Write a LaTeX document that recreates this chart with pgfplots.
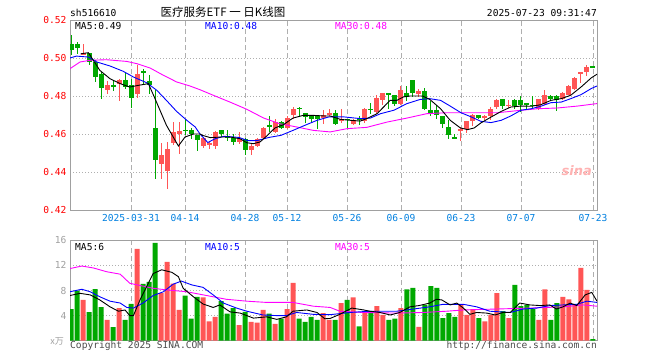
\documentclass[border=0pt]{standalone}
\usepackage{fontspec}
\setmainfont{DejaVu Sans Mono}
\setsansfont{DejaVu Sans}
\newfontfamily\cjk{Noto Sans CJK SC}
\usepackage{pgfplots}
\usepackage{pgfplotstable}
\pgfplotsset{compat=1.18}
\definecolor{cred}{RGB}{255,85,85}
\definecolor{cgreen}{RGB}{0,168,0}
\definecolor{cmag}{RGB}{255,0,255}
\definecolor{cblue}{RGB}{0,0,255}
\definecolor{cdate}{RGB}{0,128,224}
\definecolor{cframe}{RGB}{160,160,160}
\definecolor{cgrid}{RGB}{175,175,175}
\newcommand\mono{\fontsize{9.6}{11}\selectfont}

\pgfplotstableread{
i o h l c
2 0.5019 0.5075 0.5014 0.5028
6 0.4830 0.4877 0.4812 0.4856
8 0.4865 0.4891 0.4772 0.4886
11 0.4809 0.4961 0.4791 0.4918
15 0.4444 0.4553 0.4365 0.4491
16 0.4404 0.4558 0.4309 0.4523
17 0.4553 0.4663 0.4540 0.4611
18 0.4602 0.4663 0.4496 0.4614
22 0.4537 0.4584 0.4526 0.4579
23 0.4544 0.4563 0.4519 0.4554
24 0.4537 0.4614 0.4519 0.4611
28 0.4558 0.4610 0.4549 0.4575
30 0.4514 0.4549 0.4491 0.4537
31 0.4537 0.4581 0.4530 0.4575
32 0.4579 0.4635 0.4575 0.4633
34 0.4611 0.4677 0.4607 0.4663
36 0.4633 0.4695 0.4628 0.4684
37 0.4702 0.4742 0.4681 0.4733
42 0.4684 0.4725 0.4654 0.4702
43 0.4702 0.4733 0.4695 0.4712
45 0.4667 0.4733 0.4660 0.4677
47 0.4654 0.4681 0.4649 0.4672
49 0.4667 0.4737 0.4660 0.4733
51 0.4716 0.4804 0.4707 0.4790
52 0.4777 0.4818 0.4751 0.4818
55 0.4760 0.4853 0.4751 0.4830
58 0.4812 0.4835 0.4795 0.4828
65 0.4614 0.4635 0.4561 0.4628
66 0.4628 0.4667 0.4607 0.4667
67 0.4667 0.4707 0.4642 0.4702
69 0.4684 0.4702 0.4672 0.4695
70 0.4695 0.4742 0.4672 0.4733
71 0.4742 0.4786 0.4733 0.4777
73 0.4747 0.4777 0.4737 0.4754
78 0.4733 0.4786 0.4725 0.4786
79 0.4760 0.4830 0.4754 0.4807
82 0.4786 0.4821 0.4777 0.4818
83 0.4807 0.4856 0.4804 0.4853
84 0.4839 0.4900 0.4830 0.4895
85 0.4915 0.4928 0.4870 0.4925
86 0.4925 0.4962 0.4905 0.4955
}\upc

\pgfplotstableread{
i o h l c
0 0.5072 0.5120 0.5014 0.5040
1 0.5072 0.5084 0.5023 0.5054
3 0.5028 0.5028 0.4961 0.4979
4 0.4979 0.4988 0.4874 0.4900
5 0.4918 0.4926 0.4782 0.4844
7 0.4856 0.4882 0.4826 0.4851
9 0.4886 0.4926 0.4839 0.4847
10 0.4860 0.4891 0.4739 0.4790
12 0.4930 0.4940 0.4865 0.4921
13 0.4877 0.4909 0.4812 0.4860
14 0.4633 0.4833 0.4365 0.4461
19 0.4623 0.4677 0.4593 0.4619
20 0.4623 0.4632 0.4575 0.4602
21 0.4593 0.4596 0.4509 0.4567
25 0.4621 0.4621 0.4584 0.4600
26 0.4589 0.4619 0.4561 0.4584
27 0.4579 0.4602 0.4540 0.4558
29 0.4575 0.4579 0.4488 0.4514
33 0.4646 0.4695 0.4611 0.4635
35 0.4663 0.4667 0.4628 0.4633
38 0.4737 0.4742 0.4690 0.4733
39 0.4711 0.4711 0.4660 0.4690
40 0.4698 0.4702 0.4660 0.4677
41 0.4695 0.4695 0.4628 0.4677
44 0.4712 0.4725 0.4646 0.4654
46 0.4681 0.4681 0.4628 0.4672
48 0.4684 0.4695 0.4649 0.4672
50 0.4733 0.4765 0.4707 0.4725
53 0.4818 0.4818 0.4733 0.4807
54 0.4807 0.4807 0.4747 0.4760
56 0.4818 0.4853 0.4772 0.4795
57 0.4886 0.4886 0.4795 0.4818
59 0.4828 0.4842 0.4725 0.4733
60 0.4725 0.4772 0.4695 0.4707
61 0.4725 0.4751 0.4681 0.4702
62 0.4695 0.4695 0.4632 0.4654
63 0.4635 0.4672 0.4572 0.4593
64 0.4581 0.4602 0.4572 0.4579
68 0.4702 0.4702 0.4677 0.4684
72 0.4786 0.4786 0.4730 0.4747
74 0.4777 0.4782 0.4733 0.4747
75 0.4777 0.4798 0.4716 0.4751
76 0.4765 0.4765 0.4725 0.4754
77 0.4752 0.4798 0.4737 0.4751
80 0.4798 0.4807 0.4777 0.4786
81 0.4798 0.4807 0.4719 0.4777
87 0.4955 0.4955 0.4955 0.4955
}\downc

\pgfplotstableread{
i v
2 6.49
6 3.3
8 5.21
11 14.63
15 7.6
16 12.55
17 9.1
18 4.9
22 6.9
23 3.1
24 3.8
28 2.5
30 3.0
31 2.9
32 4.9
34 2.7
36 5.05
37 9.2
42 4.4
43 3.3
45 6.0
47 6.9
49 4.7
51 5.5
52 4.1
55 5.2
58 2.2
65 5.7
66 4.1
67 5.05
69 3.1
70 4.1
71 7.6
73 3.6
78 3.3
79 8.2
82 7.0
83 6.6
84 5.7
85 11.6
86 8.1
}\upv

\pgfplotstableread{
i v
0 5.05
1 7.98
3 4.57
4 8.24
5 5.37
7 2.18
9 3.3
10 5.85
12 9.04
13 9.36
14 15.59
19 7.2
20 3.5
21 7.0
25 6.3
26 4.3
27 5.2
29 4.6
33 4.3
35 3.5
38 3.5
39 3.0
40 3.8
41 3.3
44 3.3
46 6.5
48 2.3
50 4.7
53 3.3
54 3.5
56 8.2
57 8.4
59 5.7
60 8.7
61 8.4
62 3.6
63 4.4
64 3.8
68 3.6
72 4.7
74 8.9
75 5.5
76 5.7
77 5.05
80 3.3
81 6.0
87 0.27
}\downv

\pgfplotsset{
  sinaaxis/.style={
    scale only axis, anchor=south west,
    width=527pt,
    xmin=-0.17, xmax=87.67,
    axis line style={cframe, line width=1pt},
    xtick={10,19,29,36,46,55,65,75,87},
    major tick length=0pt,
    xmajorgrids, ymajorgrids,
    x grid style={cgrid, dash pattern=on 5pt off 3pt, line width=0.9pt},
    y grid style={cgrid, dash pattern=on 1pt off 2pt, line width=0.9pt},
    tick label style={font=\mono},
  },
  wick/.style={draw=none, mark=none, forget plot,
    error bars/.cd, y dir=both, y explicit, error mark=none,
    error bar style={draw=#1, line width=1pt}},
  body/.style={draw=none, mark=none, forget plot,
    error bars/.cd, y dir=both, y explicit, error mark=none,
    error bar style={draw=#1, line width=5pt}},
}

\begin{document}
\begin{tikzpicture}
\fill[white] (0pt,0pt) rectangle (660pt,360pt);
\path[use as bounding box] (0pt,0pt) rectangle (660pt,360pt);

% ---------- price panel ----------
\begin{axis}[sinaaxis,
  at={(70pt,150pt)}, height=190pt,
  ymin=0.42, ymax=0.52,
  xticklabels={2025-03-31,04-14,04-28,05-12,05-26,06-09,06-23,07-07,07-23},
  xticklabel style={text=cdate, yshift=-1pt},
  ytick={0.42,0.44,0.46,0.48,0.50,0.52},
  yticklabels={0.42,0.44,0.46,0.48,0.50,0.52},
  yticklabel style={text=red},
]
\addplot[wick=cred] table[x=i, y expr=(\thisrow{h}+\thisrow{l})/2, y error expr=(\thisrow{h}-\thisrow{l})/2] {\upc};
\addplot[body=cred] table[x=i, y expr=(\thisrow{o}+\thisrow{c})/2, y error expr={max(abs(\thisrow{c}-\thisrow{o})/2,0.00027)}] {\upc};
\addplot[wick=cgreen] table[x=i, y expr=(\thisrow{h}+\thisrow{l})/2, y error expr=(\thisrow{h}-\thisrow{l})/2] {\downc};
\addplot[body=cgreen] table[x=i, y expr=(\thisrow{o}+\thisrow{c})/2, y error expr={max(abs(\thisrow{c}-\thisrow{o})/2,0.00027)}] {\downc};

% MA30
\addplot[cmag, line width=0.9pt] coordinates {(-0.17,0.4944) (1.5,0.4979) (3.2,0.4988) (5.9,0.4991) (9.3,0.4982) (11,0.4970) (13.2,0.4947) (15.4,0.4909) (17.6,0.4874) (19.8,0.4853) (21.5,0.4833) (23.7,0.4804) (26.5,0.4768) (29.3,0.4730) (32.1,0.4684) (34.8,0.4654) (37.6,0.4637) (40.4,0.4619) (43.2,0.4611) (46,0.4628) (49.3,0.4635) (52.7,0.4663) (56,0.4684) (59.3,0.4707) (62.7,0.4712) (67.8,0.4712) (71.1,0.4712) (74.4,0.4723) (77.8,0.4733) (81.1,0.4737) (84.4,0.4747) (87.67,0.4760)};
% MA10
\addplot[cblue, line width=0.9pt] coordinates {(-0.17,0.5000) (0.9,0.5010) (2.9,0.5005) (4.3,0.4979) (6.5,0.4958) (8.7,0.4930) (10.4,0.4900) (12.6,0.4870) (14.3,0.4830) (15.9,0.4777) (17.6,0.4719) (19.3,0.4672) (20.7,0.4637) (21.5,0.4600) (22.8,0.4555) (24,0.4575) (25.5,0.4588) (28,0.4582) (29.5,0.4565) (31,0.4565) (33,0.4582) (35,0.4593) (37,0.4619) (39,0.4646) (41,0.4672) (43,0.4690) (45.5,0.4690) (48.2,0.4681) (49.9,0.4684) (51.6,0.4707) (53.8,0.4725) (56,0.4760) (58.2,0.4782) (59.8,0.4786) (61.6,0.4777) (63.2,0.4747) (65,0.4712) (66.7,0.4690) (68.3,0.4667) (70,0.4660) (71.7,0.4672) (73.3,0.4695) (75,0.4725) (76.7,0.4733) (78.3,0.4746) (80,0.4765) (81.7,0.4768) (83.3,0.4786) (85,0.4807) (86.7,0.4839) (87.67,0.4853)};
% MA5
\addplot[black, line width=0.9pt] coordinates {(1.6,0.5022) (2.9,0.5028) (4.8,0.4935) (6.5,0.4891) (8.2,0.4865) (9.8,0.4847) (11.2,0.4856) (12.9,0.4865) (14,0.4786) (15.9,0.4646) (17.9,0.4537) (19,0.4584) (20.4,0.4600) (21.5,0.4600) (21.9,0.4593) (23.2,0.4581) (25,0.4584) (26.5,0.4584) (28.2,0.4575) (29.3,0.4554) (30.4,0.4549) (31.5,0.4558) (32.6,0.4589) (34,0.4632) (35.4,0.4649) (37,0.4684) (38.7,0.4698) (40.4,0.4698) (42.2,0.4695) (43.2,0.4695) (44.9,0.4677) (46.6,0.4672) (48.2,0.4668) (49.3,0.4681) (51,0.4707) (52.1,0.4742) (53.2,0.4777) (54.3,0.4777) (55.4,0.4795) (56.4,0.4800) (58.6,0.4800) (59.8,0.4782) (61.6,0.4733) (63.2,0.4672) (64.9,0.4632) (66.1,0.4623) (67.2,0.4632) (68.3,0.4658) (70,0.4689) (71.7,0.4719) (73.3,0.4742) (75,0.4747) (76.7,0.4746) (78.3,0.4754) (80,0.4777) (81.7,0.4786) (83.3,0.4804) (85,0.4847) (86.7,0.4895) (87.67,0.4915)};
\node[text=red!30!white, font=\sffamily\bfseries\itshape\fontsize{13}{13}\selectfont, anchor=center] at (axis cs:84.3,0.4405) {sina};
\end{axis}

% ---------- volume panel ----------
\begin{axis}[sinaaxis,
  at={(70pt,19.3pt)}, height=100.4pt,
  ymin=0, ymax=16,
  xticklabels={},
  ytick={4,8,12,16},
  yticklabels={4,8,12,16},
  yticklabel style={text=cframe},
]
\addplot[ybar, bar width=5pt, bar shift=0pt, fill=cred, draw=none, forget plot] table[x=i, y=v] {\upv};
\addplot[ybar, bar width=5pt, bar shift=0pt, fill=cgreen, draw=none, forget plot] table[x=i, y=v] {\downv};
\addplot[cmag, line width=0.9pt] coordinates {(-0.17,11.5) (1.8,11.9) (3.7,11.6) (5.9,11.0) (8.2,10.6) (9.8,9.15) (11.5,8.8) (13.7,8.35) (15.9,8.1) (19.3,7.8) (22.6,7.2) (25.9,6.6) (29.3,6.3) (32.6,6.1) (37,6.1) (40.4,5.5) (43.2,5.3) (44.8,4.7) (48.7,4.5) (54.3,4.4) (58.7,4.5) (62.6,4.7) (65.4,4.9) (70.9,5.05) (76.5,5.2) (82,5.4) (85.4,5.7) (87.67,5.5)};
\addplot[cblue, line width=0.9pt] coordinates {(-0.17,7.8) (1.8,8.2) (3.2,7.8) (4.8,7.0) (6.5,6.3) (8.2,6.0) (9.3,5.3) (10.4,5.2) (12,6.0) (13.7,7.2) (15.4,7.8) (17,9.0) (18.4,9.5) (20.1,8.9) (22,8.5) (23.7,7.3) (25.4,6.0) (27.6,5.2) (29.3,4.7) (32,4.1) (34.3,4.0) (35.9,4.0) (37.6,4.5) (40.4,4.2) (43.2,4.15) (46.5,4.5) (49.8,4.7) (54.3,4.7) (57.1,5.05) (59.8,5.4) (62,5.8) (65.4,5.8) (67.6,5.4) (69.8,4.7) (73.2,4.5) (75.4,5.05) (77.6,5.2) (79.8,5.6) (82,5.7) (84.3,5.8) (86,6.3) (87.67,6.1)};
\addplot[black, line width=0.9pt] coordinates {(-0.17,7.2) (1.5,7.55) (3.2,7.3) (4.8,6.5) (6.5,5.4) (7.9,4.7) (9,4.9) (9.8,4.0) (10.4,4.0) (11.5,6.5) (12.6,8.6) (13.7,10.7) (15.1,11.3) (16.8,10.9) (17.9,10.2) (18.7,8.35) (20.4,7.0) (22,5.85) (23.7,5.3) (24.8,5.7) (26.5,4.6) (28.2,4.4) (30.4,3.6) (32.6,3.8) (34.3,3.4) (35.9,3.8) (37,4.7) (39.3,4.9) (41,4.5) (42.3,3.5) (43.2,3.55) (44.8,4.2) (46.8,5.2) (48.8,4.9) (49.8,4.7) (51.5,4.5) (53.2,4.1) (54.8,4.5) (56.5,5.4) (58,5.6) (59.8,6.0) (60.9,6.6) (61.8,6.5) (63.2,5.7) (64.3,6.0) (65.4,5.2) (66.5,4.2) (67.6,4.5) (69.3,4.4) (70.7,4.1) (72,4.5) (73.2,4.5) (74.8,6.0) (76.5,5.7) (78.2,5.6) (79.8,5.7) (80.9,5.05) (82,5.4) (83.2,6.0) (84.3,5.6) (85.7,7.3) (86.8,7.7) (87.67,6.3)};
\end{axis}

% ---------- texts ----------
\node[anchor=west, inner sep=0pt, font=\mono] at (70pt,347pt) {sh516610};
\node[anchor=center, inner sep=0pt, font=\cjk\fontsize{11.5}{13}\selectfont] at (223pt,347.5pt) {医疗服务ETF 一 日K线图};
\node[anchor=east, inner sep=0pt, font=\mono] at (597pt,347pt) {2025-07-23 09:31:47};
\node[anchor=west, inner sep=0pt, font=\mono, text=black] at (75pt,334pt) {MA5:0.49};
\node[anchor=west, inner sep=0pt, font=\mono, text=cblue] at (205pt,334pt) {MA10:0.48};
\node[anchor=west, inner sep=0pt, font=\mono, text=cmag] at (335pt,334pt) {MA30:0.48};
\node[anchor=west, inner sep=0pt, font=\mono, text=black] at (75pt,113pt) {MA5:6};
\node[anchor=west, inner sep=0pt, font=\mono, text=cblue] at (205pt,113pt) {MA10:5};
\node[anchor=west, inner sep=0pt, font=\mono, text=cmag] at (335pt,113pt) {MA30:5};
\node[anchor=west, inner sep=0pt, font=\mono, text=black!70] at (70pt,14pt) {Copyright 2025 SINA.COM};
\node[anchor=east, inner sep=0pt, font=\mono, text=black!70] at (597pt,14pt) {http://finance.sina.com.cn};
\node[anchor=east, inner sep=0pt, font=\cjk\fontsize{9}{10}\selectfont, text=cframe] at (64pt,19pt) {x万};
\end{tikzpicture}
\end{document}
